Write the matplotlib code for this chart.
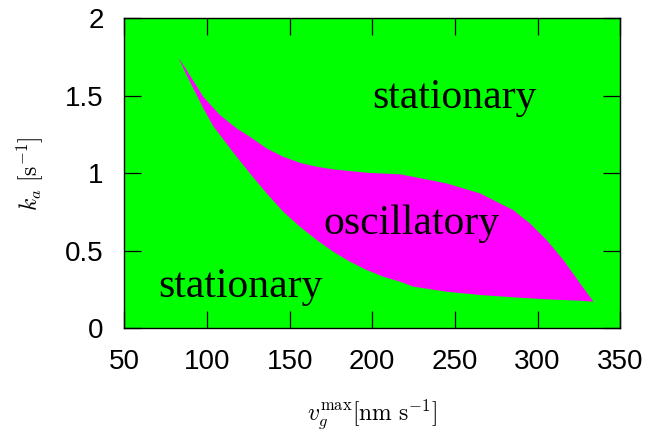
"""Phase diagram: stationary vs oscillatory region in (v_g^max, k_a) plane."""
import matplotlib

matplotlib.use("Agg")
import matplotlib.pyplot as plt  # noqa: E402

plt.rcParams["mathtext.fontset"] = "cm"

# boundary of the oscillatory region
upper_x = [82.7, 87.7, 97.8, 107.9, 118.0, 126.0, 136.1, 146.2, 156.3, 166.4,
           176.4, 186.5, 196.6, 216.8, 224.8, 245.0, 265.2, 285.3, 295.4,
           305.5, 315.6, 325.7, 333.8]
upper_y = [1.748, 1.666, 1.494, 1.376, 1.29, 1.236, 1.161, 1.107, 1.068, 1.043,
           1.026, 1.015, 1.004, 0.994, 0.978, 0.935, 0.871, 0.763, 0.677,
           0.570, 0.441, 0.290, 0.172]
lower_x = [82.7, 87.7, 97.8, 103.8, 115.9, 126.0, 136.1, 146.2, 156.3, 166.4,
           176.4, 186.5, 196.6, 206.7, 216.8, 224.8, 245.0, 265.2, 285.3,
           305.5, 325.7, 333.8]
lower_y = [1.748, 1.634, 1.420, 1.305, 1.135, 1.000, 0.871, 0.752, 0.655, 0.570,
           0.494, 0.430, 0.376, 0.333, 0.301, 0.269, 0.236, 0.215, 0.200,
           0.187, 0.178, 0.172]

region_labels = ["stationary", "stationary", "oscillatory"]
label_x = [250.0, 120.5, 223.9]
label_y = [1.42, 0.204, 0.607]

x_ticks = [50, 100, 150, 200, 250, 300, 350]
y_ticks = [0, 0.5, 1, 1.5, 2]
y_tick_labels = ["0", "0.5", "1", "1.5", "2"]

GREEN = "#00ff00"
MAGENTA = "#ff00ff"

fig = plt.figure(figsize=(6.51, 4.33), dpi=100)
ax = fig.add_axes([0.191, 0.2418, 0.7617, 0.7155])
ax.set_facecolor(GREEN)

poly_x = upper_x + lower_x[::-1]
poly_y = upper_y + lower_y[::-1]
ax.fill(poly_x, poly_y, color=MAGENTA, lw=0)

for txt, tx, ty in zip(region_labels, label_x, label_y):
    ax.text(tx, ty, txt, ha="center", va="baseline", fontsize=30,
            family="Liberation Serif", color="black")

ax.set_xlim(50, 350)
ax.set_ylim(0, 2)
ax.set_xticks(x_ticks)
ax.set_yticks(y_ticks)
ax.set_yticklabels(y_tick_labels)
ax.tick_params(direction="in", length=12, width=0.9, top=True, right=True,
               labelsize=20, pad=15)
for lab in ax.get_xticklabels() + ax.get_yticklabels():
    lab.set_family("Liberation Sans")
for sp in ax.spines.values():
    sp.set_linewidth(1.0)

ax.set_xlabel(r"$v_g^{\rm max}[{\rm nm\ s}^{-1}]$", fontsize=17, labelpad=16)
ax.set_ylabel(r"$k_a\ [{\rm s}^{-1}]$", fontsize=17, labelpad=14)

fig.savefig("out.png", dpi=100)
plt.close(fig)
